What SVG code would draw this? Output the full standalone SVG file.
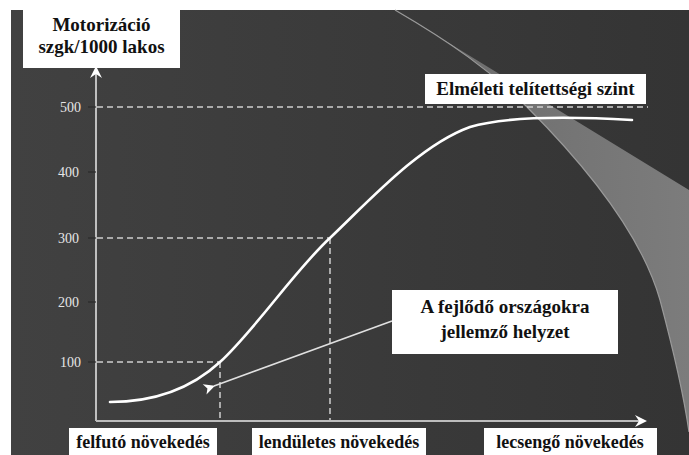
<svg xmlns="http://www.w3.org/2000/svg" width="689" height="455" viewBox="0 0 689 455">
<defs>
<linearGradient id="bg" x1="0" y1="0" x2="1" y2="0">
<stop offset="0" stop-color="#414141"/>
<stop offset="1" stop-color="#343434"/>
</linearGradient>
<linearGradient id="sw" x1="0" y1="0" x2="1" y2="0">
<stop offset="0" stop-color="#6a6a6a"/>
<stop offset="1" stop-color="#7c7c7c"/>
</linearGradient>
<marker id="ah" markerWidth="12" markerHeight="12" refX="1" refY="6" orient="auto" markerUnits="userSpaceOnUse">
<path d="M0,6 L11,0.5 L8,6 L11,11.5 Z" fill="#ffffff"/>
</marker>
</defs>
<style>
.lbl{font-weight:bold;fill:#111;}
.tick{font-size:14px;fill:#e6e6e6;text-anchor:end;}
.dash{stroke:#cfcfcf;stroke-width:1.5;stroke-dasharray:6 4;fill:none;}
.box{fill:#ffffff;}
.tk{stroke:#2a2a2a;stroke-width:1.2;}
</style>
<rect x="0" y="0" width="689" height="455" fill="#ffffff"/>
<rect x="11" y="10" width="678" height="445" fill="url(#bg)"/>
<path d="M395,10 L689,190 L689,432 C683,390 672,345 660,300 C640,230 580,160 527,107 C490,70 450,42 395,10 Z" fill="url(#sw)"/>
<path d="M395,10 C450,42 490,70 527,107 C580,160 640,230 660,300 C672,345 683,390 689,432" fill="none" stroke="#9a9a9a" stroke-width="1.2"/>
<g id="grid">
<line class="dash" x1="97" y1="107" x2="648" y2="107"/>
<line class="dash" x1="97" y1="238" x2="330" y2="238"/>
<line class="dash" x1="330" y1="238" x2="330" y2="420"/>
<line class="dash" x1="97" y1="362" x2="220" y2="362"/>
<line class="dash" x1="220" y1="362" x2="220" y2="420"/>
</g>
<g id="axes" font-family="Liberation Serif, serif">
<line x1="96" y1="421" x2="96" y2="74" stroke="#e0e0e0" stroke-width="1.6"/>
<path d="M96,66 L90,78 L96,74 L102,78 Z" fill="#ffffff"/>
<line x1="96" y1="421" x2="640" y2="421" stroke="#bdbdbd" stroke-width="2"/>
<path d="M647,421 L635,415 L639,421 L635,427 Z" fill="#ffffff"/>
<line class="tk" x1="88" y1="107" x2="96" y2="107"/>
<line class="tk" x1="88" y1="172" x2="96" y2="172"/>
<line class="tk" x1="88" y1="238" x2="96" y2="238"/>
<line class="tk" x1="88" y1="302" x2="96" y2="302"/>
<line class="tk" x1="88" y1="362" x2="96" y2="362"/>
<text class="tick" x="81" y="112">500</text>
<text class="tick" x="79" y="177">400</text>
<text class="tick" x="79" y="243">300</text>
<text class="tick" x="79" y="307">200</text>
<text class="tick" x="81" y="367">100</text>
</g>
<g id="curve">
<path d="M110,402 C160,402 195,385 220,362 C255,330 295,270 330,238 C370,200 420,145 470,127 C510,115 580,117 632,120" fill="none" stroke="#ffffff" stroke-width="2.6" stroke-linecap="round"/>
</g>
<g id="connectors">
<line x1="392" y1="321" x2="214" y2="386" stroke="#e0e0e0" stroke-width="1.6" marker-end="url(#ah)"/>
</g>
<g font-family="Liberation Serif, serif">
<g id="node-yaxis-title">
<rect class="box" x="23" y="0" width="157" height="68"/>
<text class="lbl" x="101.5" y="31" font-size="19" text-anchor="middle">Motorizáció</text>
<text class="lbl" x="101.5" y="53" font-size="19" text-anchor="middle">szgk/1000 lakos</text>
</g>
<g id="node-saturation">
<rect class="box" x="425" y="74" width="221" height="30"/>
<text class="lbl" x="535.5" y="95" font-size="19" text-anchor="middle">Elméleti telítettségi szint</text>
</g>
<g id="node-developing">
<rect class="box" x="392" y="290" width="226" height="64"/>
<text class="lbl" x="505" y="313" font-size="19" text-anchor="middle">A fejlődő országokra</text>
<text class="lbl" x="505" y="338" font-size="19" text-anchor="middle">jellemző helyzet</text>
</g>
<g id="node-phase1">
<rect class="box" x="69" y="428" width="148" height="27"/>
<text class="lbl" x="143" y="448" font-size="18" text-anchor="middle">felfutó növekedés</text>
</g>
<g id="node-phase2">
<rect class="box" x="252" y="428" width="174" height="27"/>
<text class="lbl" x="339" y="448" font-size="18" text-anchor="middle">lendületes növekedés</text>
</g>
<g id="node-phase3">
<rect class="box" x="484" y="428" width="173" height="27"/>
<text class="lbl" x="570" y="448" font-size="18" text-anchor="middle">lecsengő növekedés</text>
</g>
</g>
</svg>
